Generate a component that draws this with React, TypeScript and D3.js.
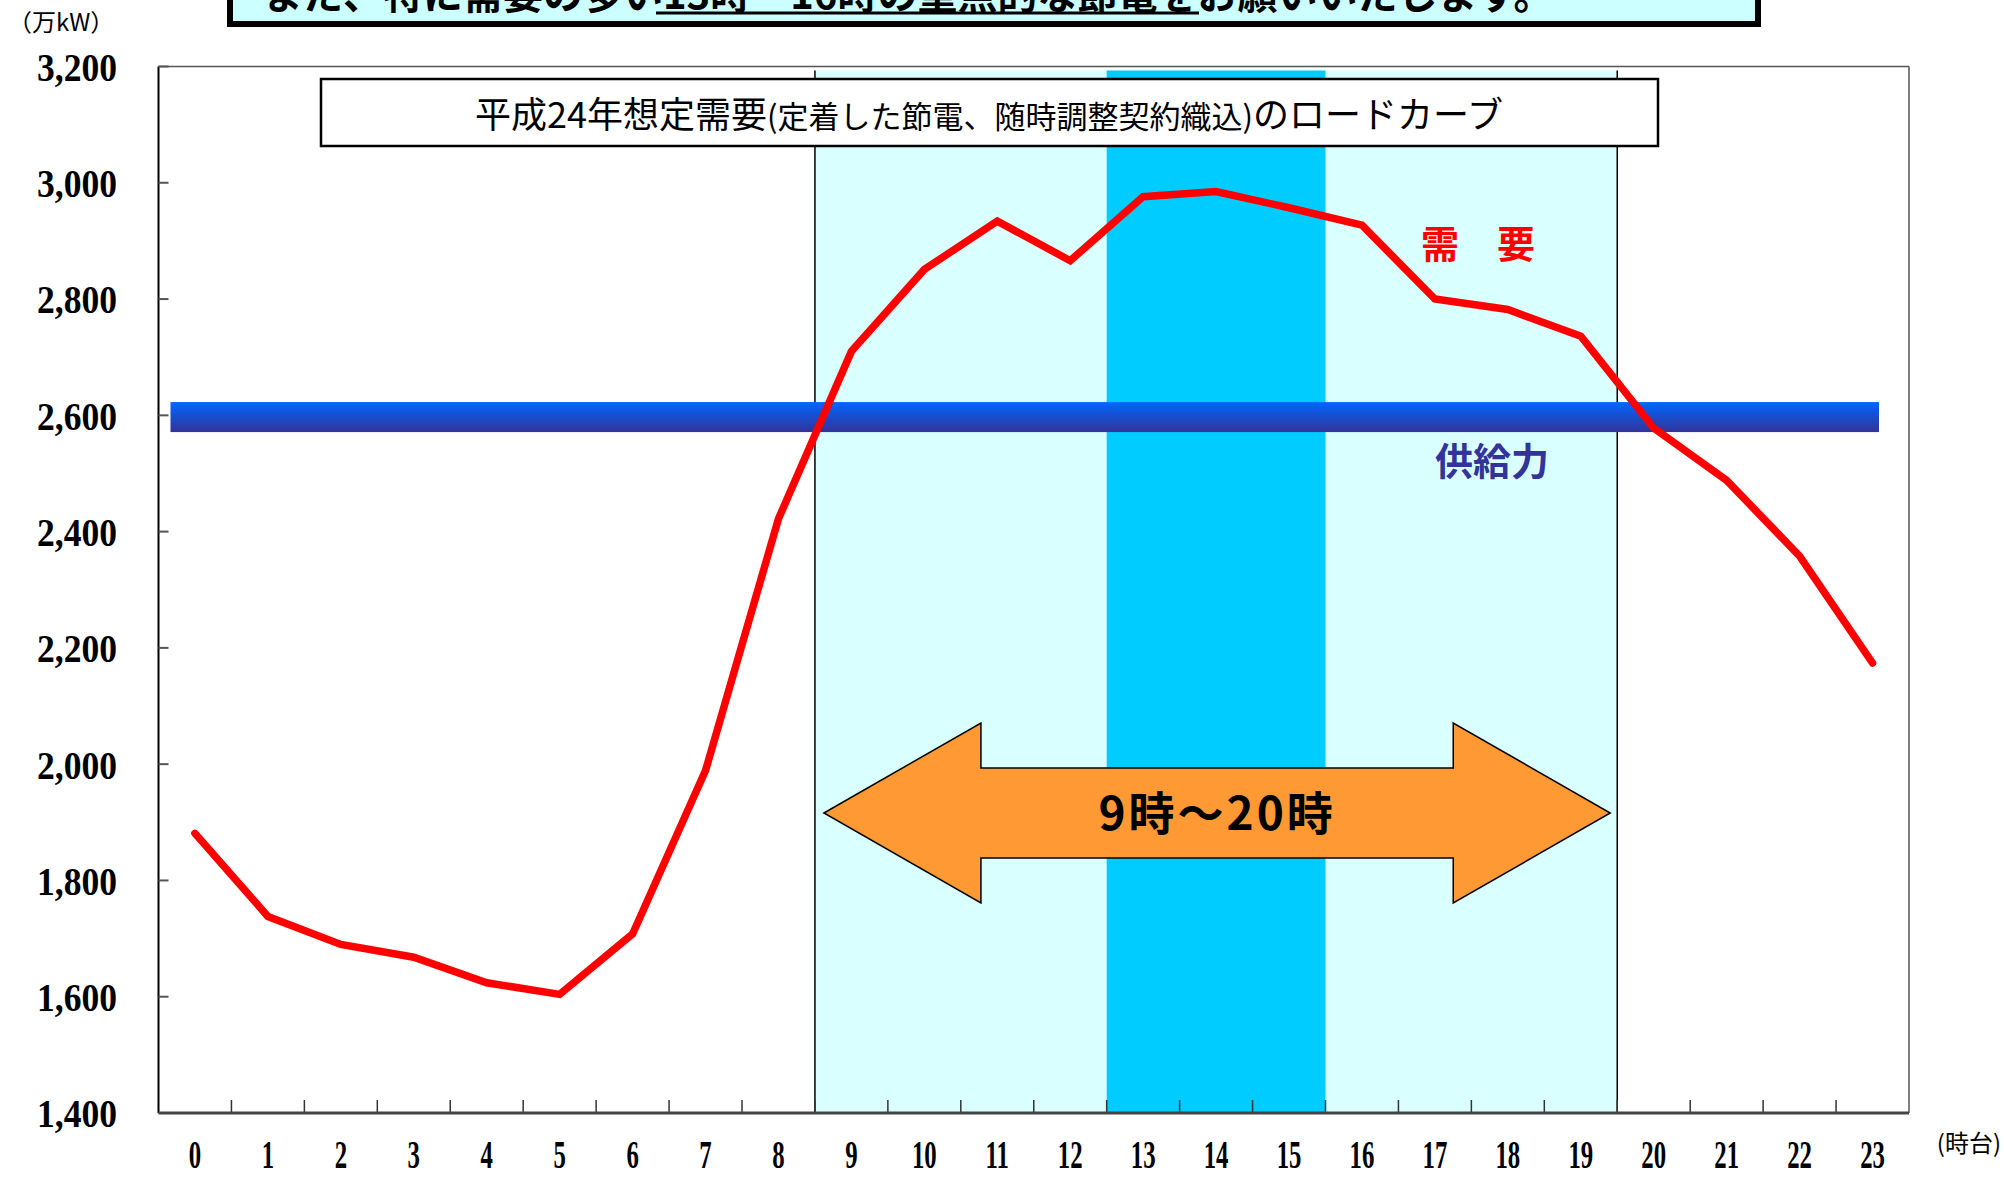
import React from "react";
import * as d3 from "d3";

const hours = ["0","1","2","3","4","5","6","7","8","9","10","11","12","13","14","15","16","17","18","19","20","21","22","23"];
const demand = [1881, 1738, 1690, 1668, 1624, 1604, 1708, 1989, 2422, 2710, 2851, 2934, 2866, 2976, 2985, 2957, 2927, 2800, 2782, 2736, 2578, 2488, 2358, 2174];
const supply = 2597;
const yTicks = [1400, 1600, 1800, 2000, 2200, 2400, 2600, 2800, 3000, 3200];
const peakRange = ["9", "19"];
const corePeak = ["13", "15"];
const arrowLevel = 1916;

const W = 2004;
const H = 1178;
const left = 158.5;
const right = 1909;
const top = 66.5;
const bottom = 1113;

export default function App() {
  const x = d3.scaleBand().domain(hours).range([left, right]);
  const y = d3.scaleLinear([1400, 3200], [bottom, top]);
  const bw = x.bandwidth();
  const cx = (h: string) => (x(h) as number) + bw / 2;

  const line = d3
    .line<number>()
    .x((_, i) => cx(hours[i]))
    .y((d) => y(d));

  const fmt = d3.format(",");

  const pL = x(peakRange[0]) as number;
  const pR = (x(peakRange[1]) as number) + bw;
  const cL = x(corePeak[0]) as number;
  const cR = (x(corePeak[1]) as number) + bw;

  // double-headed arrow
  const ay = y(arrowLevel);
  const tipL = pL + 9;
  const tipR = pR - 7;
  const headL = tipL + 157;
  const headR = tipR - 157;
  const arrowPts: [number, number][] = [
    [tipL, ay],
    [headL, ay - 90],
    [headL, ay - 45],
    [headR, ay - 45],
    [headR, ay - 90],
    [tipR, ay],
    [headR, ay + 90],
    [headR, ay + 45],
    [headL, ay + 45],
    [headL, ay + 90],
  ];
  const arrowPath = d3.line()(arrowPts) + "Z";

  const jp = "'Noto Sans CJK JP', sans-serif";
  const serif = "'Liberation Serif', 'DejaVu Serif', serif";

  return (
    <svg width={W} height={H} style={{ position: "absolute", left: 0, top: 0, background: "#fff" }}>
      <defs>
        <linearGradient id="supplyGrad" x1="0" y1="0" x2="0" y2="1">
          <stop offset="0" stopColor="#0066ff" />
          <stop offset="1" stopColor="#333399" />
        </linearGradient>
      </defs>

      {/* banner cut off at the top */}
      <rect x={230} y={-40} width={1528} height={64} fill="#ccffff" stroke="#000" strokeWidth={6} />
      <text x={263} y={9} fontFamily={jp} fontWeight="bold" fontSize={40} fill="#000">
        また、特に需要の多い13時～16時の重点的な節電をお願いいたします。
      </text>
      <line x1={656} x2={1199} y1={13} y2={13} stroke="#000" strokeWidth={3} />

      {/* shaded periods */}
      <rect x={pL} y={top + 4} width={pR - pL} height={bottom - top - 4} fill="#d9ffff" />
      <rect x={cL} y={top + 4} width={cR - cL} height={bottom - top - 4} fill="#00ccff" />
      <line x1={pL} x2={pL} y1={top + 4} y2={bottom} stroke="#000" strokeWidth={1.5} />
      <line x1={pR} x2={pR} y1={top + 4} y2={bottom} stroke="#000" strokeWidth={1.5} />

      {/* plot frame */}
      <line x1={left} x2={right} y1={top} y2={top} stroke="#555" strokeWidth={1.5} />
      <line x1={right} x2={right} y1={top} y2={bottom} stroke="#555" strokeWidth={1.5} />
      <line x1={left} x2={left} y1={top} y2={bottom} stroke="#000" strokeWidth={2} />

      {/* y ticks */}
      {yTicks.map((t) => (
        <g key={t}>
          <line x1={left} x2={left + 10} y1={y(t)} y2={y(t)} stroke="#555" strokeWidth={2} />
          <text
            x={117}
            y={y(t)}
            dy="0.35em"
            textAnchor="end"
            fontFamily={serif}
            fontWeight="bold"
            fontSize={41}
            textLength={80}
            lengthAdjust="spacingAndGlyphs"
            fill="#000"
          >
            {fmt(t)}
          </text>
        </g>
      ))}

      {/* x ticks */}
      {hours.slice(1).map((h) => (
        <line key={h} x1={x(h)} x2={x(h)} y1={bottom} y2={bottom - 13} stroke="#333" strokeWidth={1.5} />
      ))}
      <line x1={left} x2={right} y1={bottom} y2={bottom} stroke="#444" strokeWidth={3} />
      {hours.map((h) => (
        <text
          key={h}
          transform={`translate(${cx(h)},${1168}) scale(0.62,1)`}
          textAnchor="middle"
          fontFamily={serif}
          fontWeight="bold"
          fontSize={40}
          fill="#000"
        >
          {h}
        </text>
      ))}

      {/* supply bar */}
      <rect
        x={left + 12}
        y={y(supply) - 15}
        width={right - left - 42}
        height={30}
        fill="url(#supplyGrad)"
      />

      {/* arrow */}
      <path d={arrowPath} fill="#ff9933" stroke="#000" strokeWidth={1.5} />
      <text
        x={(tipL + tipR) / 2}
        y={ay}
        dy="0.36em"
        textAnchor="middle"
        fontFamily={jp}
        fontWeight="bold"
        fontSize={46}
        letterSpacing={3}
        fill="#000"
      >
        9時～20時
      </text>

      {/* demand line */}
      <path
        d={line(demand) as string}
        fill="none"
        stroke="#ff0000"
        strokeWidth={7.5}
        strokeLinejoin="miter"
        strokeLinecap="round"
      />

      {/* title box */}
      <rect x={321} y={79} width={1337} height={67} fill="#fff" stroke="#000" strokeWidth={2.5} />
      <text x={989} y={115} dy="0.35em" textAnchor="middle" fontFamily={jp} fontSize={36} fill="#000">
        平成24年想定需要<tspan fontSize={31}>(定着した節電、随時調整契約織込)</tspan>のロードカーブ
      </text>

      {/* series labels */}
      <text x={1478} y={245} dy="0.35em" textAnchor="middle" fontFamily={jp} fontWeight="bold" fontSize={38} fill="#ff0000">
        需　要
      </text>
      <text x={1492} y={462} dy="0.35em" textAnchor="middle" fontFamily={jp} fontWeight="bold" fontSize={38} fill="#333399">
        供給力
      </text>

      {/* units */}
      <text x={8} y={23} dy="0.35em" fontFamily={jp} fontSize={24} fill="#000">
        （万kW）
      </text>
      <text x={2001} y={1144} dy="0.35em" textAnchor="end" fontFamily={jp} fontSize={24} fill="#000">
        (時台)
      </text>
    </svg>
  );
}
